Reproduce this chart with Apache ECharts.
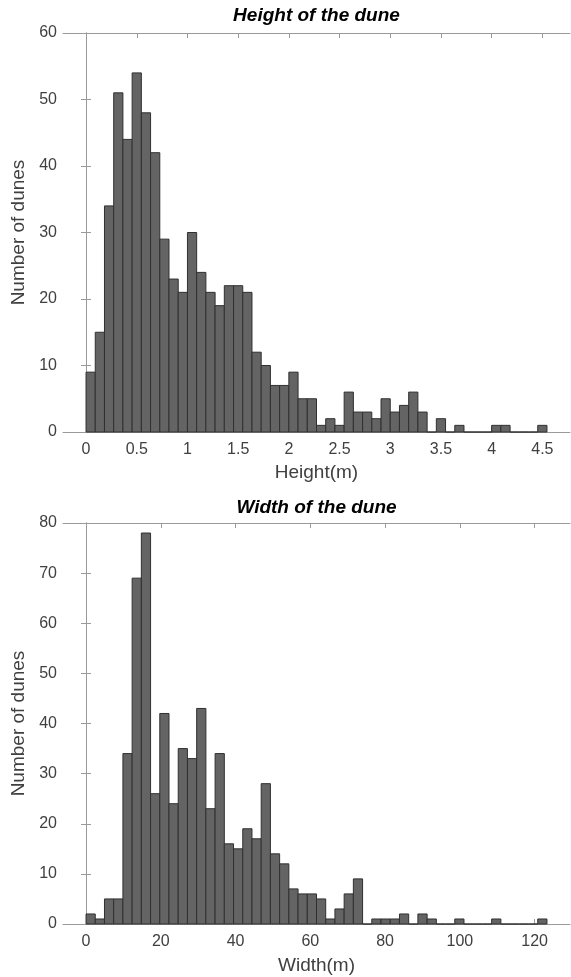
<!DOCTYPE html>
<html>
<head>
<meta charset="utf-8">
<style>
  html, body { margin: 0; padding: 0; background: #fff; }
  #chart { width: 571px; height: 977px; }
</style>
<script src="https://cdn.jsdelivr.net/npm/echarts@6/dist/echarts.min.js"></script>
</head>
<body>
<div id="chart"></div>
<script>
// histogram of dune height: 50 bins starting at 0
const heightBinWidth = 0.0909
const heightCounts = [
  9, 15, 34, 51, 44, 54, 48, 42, 29, 23,
  21, 30, 24, 21, 19, 22, 22, 21, 12, 10,
  7, 7, 9, 5, 5, 1, 2, 1, 6, 3,
  3, 2, 5, 3, 4, 6, 3, 0, 2, 0,
  1, 0, 0, 0, 1, 1, 0, 0, 0, 1,
]
const heightTicks = [0, 0.5, 1, 1.5, 2, 2.5, 3, 3.5, 4, 4.5]

// histogram of dune width: 50 bins starting at 0
const widthBinWidth = 2.466
const widthCounts = [
  2, 1, 5, 5, 34, 69, 78, 26, 42, 24,
  35, 33, 43, 23, 34, 16, 15, 19, 17, 28,
  14, 12, 7, 6, 6, 5, 1, 3, 6, 9,
  0, 1, 1, 1, 2, 0, 2, 1, 0, 0,
  1, 0, 0, 0, 1, 0, 0, 0, 0, 1,
]
const widthTicks = [0, 20, 40, 60, 80, 100, 120]

const FONT = 'Liberation Sans, Arial, sans-serif'
const AXIS_COLOR = '#9a9a9a'
const LABEL_COLOR = '#404040'

// [binStart, binEnd, count] rows for the custom series
const toBins = (counts, w) => counts.map((c, i) => [i * w, (i + 1) * w, c])

const renderBin = (params, api) => {
  const p0 = api.coord([api.value(0), 0])
  const p1 = api.coord([api.value(1), api.value(2)])
  return {
    type: 'rect',
    shape: { x: p0[0], y: p1[1], width: p1[0] - p0[0], height: p0[1] - p1[1] },
    style: { fill: '#646464', stroke: '#303030', lineWidth: 1 },
  }
}

const xBottom = (grid, min, max, ticks, name, gap) => ({
  type: 'value', gridIndex: grid, position: 'bottom', min, max,
  name, nameLocation: 'middle', nameGap: gap,
  nameTextStyle: { fontFamily: FONT, fontSize: 19, color: LABEL_COLOR },
  axisLine: { show: true, onZero: false, lineStyle: { color: AXIS_COLOR, width: 1 } },
  axisTick: { show: true, inside: true, length: 5, customValues: ticks, lineStyle: { color: AXIS_COLOR } },
  axisLabel: { customValues: ticks, margin: 10, fontFamily: FONT, fontSize: 16, color: LABEL_COLOR },
  splitLine: { show: false },
})

const xTop = (grid, min, max, ticks) => ({
  type: 'value', gridIndex: grid, position: 'top', min, max,
  axisLine: { show: true, onZero: false, lineStyle: { color: AXIS_COLOR, width: 1 } },
  axisTick: { show: true, inside: true, length: 5, customValues: ticks, lineStyle: { color: AXIS_COLOR } },
  axisLabel: { show: false },
  splitLine: { show: false },
})

const yLeft = (grid, max) => ({
  type: 'value', gridIndex: grid, position: 'left', min: 0, max, interval: 10,
  name: 'Number of dunes', nameLocation: 'middle', nameGap: 31,
  nameTextStyle: { fontFamily: FONT, fontSize: 19, color: LABEL_COLOR },
  axisLine: { show: true, lineStyle: { color: AXIS_COLOR, width: 1 } },
  axisTick: { show: true, inside: true, length: 5, lineStyle: { color: AXIS_COLOR } },
  axisLabel: { margin: 6, fontFamily: FONT, fontSize: 16, color: LABEL_COLOR },
  splitLine: { show: false },
})

const yRight = (grid, max) => ({
  type: 'value', gridIndex: grid, position: 'right', min: 0, max, interval: 10,
  axisLine: { show: true, lineStyle: { color: AXIS_COLOR, width: 1 } },
  axisTick: { show: true, inside: true, length: 5, lineStyle: { color: AXIS_COLOR } },
  axisLabel: { show: false },
  splitLine: { show: false },
})

const hMin = -2.5 * heightBinWidth
const hMax = 52.5 * heightBinWidth
const wMin = -2.5 * widthBinWidth
const wMax = 52.5 * widthBinWidth

const chart = echarts.init(document.getElementById('chart'), null, { renderer: 'canvas' })
chart.setOption({
  backgroundColor: '#fff',
  animation: false,
  title: [
    {
      text: 'Height of the dune', left: 316.5, top: 6, textAlign: 'center', padding: 0,
      textStyle: { fontFamily: FONT, fontSize: 19, fontWeight: 'bold', fontStyle: 'italic', color: '#000' },
    },
    {
      text: 'Width of the dune', left: 316.5, top: 498, textAlign: 'center', padding: 0,
      textStyle: { fontFamily: FONT, fontSize: 19, fontWeight: 'bold', fontStyle: 'italic', color: '#000' },
    },
  ],
  grid: [
    { left: 63, right: 1, top: 33, height: 399 },
    { left: 63, right: 1, top: 523, height: 401 },
  ],
  xAxis: [
    xBottom(0, hMin, hMax, heightTicks, 'Height(m)', 31),
    xTop(0, hMin, hMax, heightTicks),
    xBottom(1, wMin, wMax, widthTicks, 'Width(m)', 32),
    xTop(1, wMin, wMax, widthTicks),
  ],
  yAxis: [
    yLeft(0, 60),
    yRight(0, 60),
    yLeft(1, 80),
    yRight(1, 80),
  ],
  series: [
    {
      type: 'custom', xAxisIndex: 0, yAxisIndex: 0,
      data: toBins(heightCounts, heightBinWidth),
      encode: { x: [0, 1], y: 2 },
      renderItem: renderBin,
    },
    {
      type: 'custom', xAxisIndex: 2, yAxisIndex: 2,
      data: toBins(widthCounts, widthBinWidth),
      encode: { x: [0, 1], y: 2 },
      renderItem: renderBin,
    },
  ],
})
</script>
</body>
</html>
